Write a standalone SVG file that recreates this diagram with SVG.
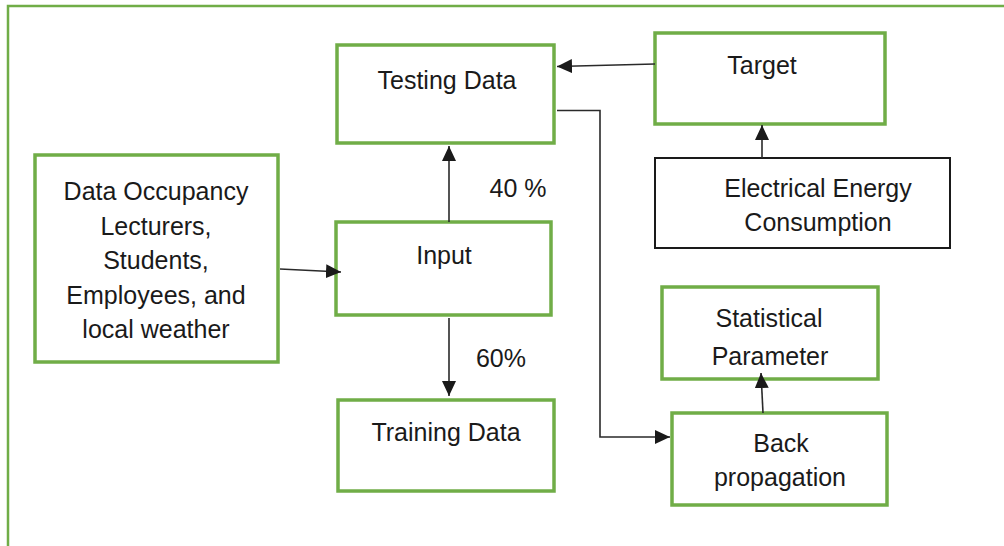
<svg xmlns="http://www.w3.org/2000/svg" width="1004" height="546" viewBox="0 0 1004 546">
<style>
.g{fill:#fff;stroke:#70AD47;stroke-width:3.5}
.k{fill:#fff;stroke:#1a1a1a;stroke-width:2}
.t{font-family:"Liberation Sans",Arial,sans-serif;font-size:25px;fill:#1a1a1a;text-anchor:middle}
.c{fill:none;stroke:#2a2a2a;stroke-width:1.6}
</style>
<defs>
<marker id="ah" viewBox="0 0 15 14" refX="15" refY="7" markerWidth="15" markerHeight="14" markerUnits="userSpaceOnUse" orient="auto">
<path d="M0,0 L15,7 L0,14 Z" fill="#1a1a1a"/>
</marker>
</defs>
<g id="frame"><path d="M8,546 V6 H1004" fill="none" stroke="#70AD47" stroke-width="2.5"/></g>
<g id="testing"><rect class="g" x="337" y="45" width="217" height="98"/><text class="t" x="447" y="89">Testing Data</text></g>
<g id="target"><rect class="g" x="655" y="33" width="230" height="91"/><text class="t" x="762" y="74">Target</text></g>
<g id="electrical"><rect class="k" x="655" y="158" width="295" height="90"/><text class="t" x="818" y="197">Electrical Energy</text><text class="t" x="818" y="231">Consumption</text></g>
<g id="data"><rect class="g" x="35" y="155" width="243" height="207"/><text class="t" x="156" y="200">Data Occupancy</text><text class="t" x="156" y="235">Lecturers,</text><text class="t" x="156" y="269">Students,</text><text class="t" x="156" y="304">Employees, and</text><text class="t" x="156" y="338">local weather</text></g>
<g id="input"><rect class="g" x="336" y="222" width="215" height="93"/><text class="t" x="444" y="264">Input</text></g>
<g id="training"><rect class="g" x="338" y="400" width="216" height="91"/><text class="t" x="446" y="441">Training Data</text></g>
<g id="statistical"><rect class="g" x="662" y="287" width="216" height="92"/><text class="t" x="769" y="327">Statistical</text><text class="t" x="770" y="365">Parameter</text></g>
<g id="backprop"><rect class="g" x="672" y="413" width="215" height="92"/><text class="t" x="781" y="452">Back</text><text class="t" x="780" y="486">propagation</text></g>
<g id="labels"><text class="t" x="518" y="197">40 %</text><text class="t" x="501" y="367">60%</text></g>
<g id="connectors">
<path class="c" d="M655,64 L557,66.5" marker-end="url(#ah)"/>
<path class="c" d="M557,110.5 H600 V437 H670" marker-end="url(#ah)"/>
<path class="c" d="M280,269 L341,272" marker-end="url(#ah)"/>
<path class="c" d="M449,222 V146" marker-end="url(#ah)"/>
<path class="c" d="M449,318 V396" marker-end="url(#ah)"/>
<path class="c" d="M762,158 V125" marker-end="url(#ah)"/>
<path class="c" d="M763,413 L761,373" marker-end="url(#ah)"/>
</g>
</svg>
